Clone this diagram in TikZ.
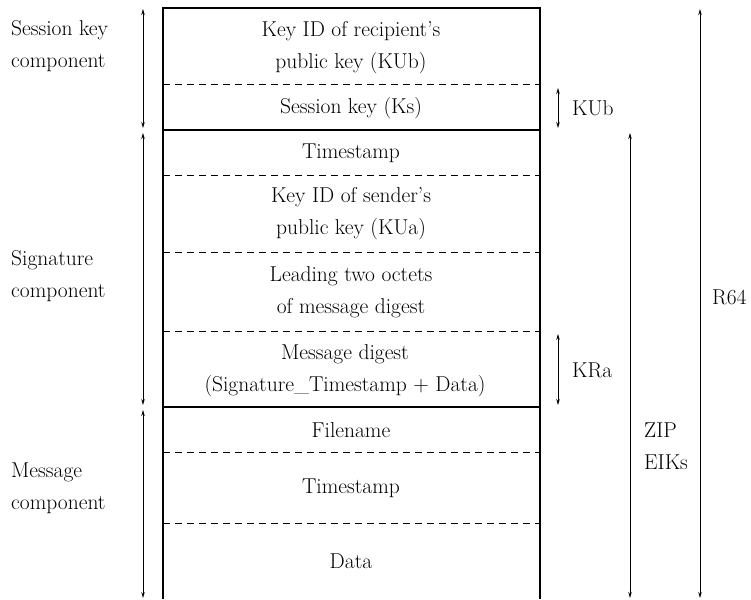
\documentclass[tikz,border=0pt]{standalone}
\usetikzlibrary{arrows.meta}
\begin{document}
\begin{tikzpicture}[x=1pt,y=-1pt,
  txt/.style={font=\fontsize{21.5}{32}\selectfont, align=center, inner sep=0pt},
  lbl/.style={font=\fontsize{21.5}{32}\selectfont, align=left, inner sep=0pt, anchor=west},
  frame/.style={line width=1.3pt},
  sep/.style={line width=1pt, dash pattern=on 7pt off 5pt},
  span/.style={line width=0.8pt, {Stealth[length=6pt,width=3.5pt]}-{Stealth[length=6pt,width=3.5pt]}}
]
\useasboundingbox (0,0) rectangle (751,599);
% box
\coordinate (BL) at (163,599);
\coordinate (TL) at (163,8);
\coordinate (TR) at (540,8);
\coordinate (BR) at (540,599);
\draw[frame] (BL) -- (TL) -- (TR) -- (BR);
% separators
\coordinate (s1l) at (163,85);  \coordinate (s1r) at (540,85);
\coordinate (s2l) at (163,130); \coordinate (s2r) at (540,130);
\coordinate (s3l) at (163,175); \coordinate (s3r) at (540,175);
\coordinate (s4l) at (163,252); \coordinate (s4r) at (540,252);
\coordinate (s5l) at (163,331); \coordinate (s5r) at (540,331);
\coordinate (s6l) at (163,407); \coordinate (s6r) at (540,407);
\coordinate (s7l) at (163,452); \coordinate (s7r) at (540,452);
\coordinate (s8l) at (163,523); \coordinate (s8r) at (540,523);
\draw[sep] (s1l) -- (s1r);
\draw[frame] (s2l) -- (s2r);
\draw[sep] (s3l) -- (s3r);
\draw[sep] (s4l) -- (s4r);
\draw[sep] (s5l) -- (s5r);
\draw[frame] (s6l) -- (s6r);
\draw[sep] (s7l) -- (s7r);
\draw[sep] (s8l) -- (s8r);
% field texts
\node[txt] (f1) at (351,47.5) {Key ID of recipient's\\public key (KUb)};
\node[txt] (f2) at (351,108) {Session key (Ks)};
\node[txt] (f3) at (351,153) {Timestamp};
\node[txt] (f4) at (351,213.5) {Key ID of sender's\\public key (KUa)};
\node[txt] (f5) at (351,292) {Leading two octets\\of message digest};
\node[txt] (f6) at (345,370.5) {Message digest\\(Signature\_Timestamp + Data)};
\node[txt] (f7) at (351,430) {Filename};
\node[txt] (f8) at (351,488) {Timestamp};
\node[txt] (f9) at (351,561) {Data};
% left labels
\node[lbl] (c1) at (11,46) {Session key\\component};
\node[lbl] (c2) at (11,276.5) {Signature\\component};
\node[lbl] (c3) at (11,488) {Message\\component};
% left spans
\coordinate (a1t) at (143,9);   \coordinate (a1b) at (143,128);
\coordinate (a2t) at (143,133); \coordinate (a2b) at (143,405);
\coordinate (a3t) at (143,410); \coordinate (a3b) at (143,598);
\draw[span] (a1t) -- (a1b);
\draw[span] (a2t) -- (a2b);
\draw[span] (a3t) -- (a3b);
% right spans
\coordinate (kt) at (558,88);  \coordinate (kb) at (558,128);
\coordinate (rt) at (558,334); \coordinate (rb) at (558,405);
\coordinate (zt) at (630,133); \coordinate (zb) at (630,598);
\coordinate (ot) at (700,9);   \coordinate (ob) at (700,598);
\draw[span] (kt) -- (kb);
\draw[span] (rt) -- (rb);
\draw[span] (zt) -- (zb);
\draw[span] (ot) -- (ob);
\node[lbl] (l1) at (572,108) {KUb};
\node[lbl] (l2) at (572,370) {KRa};
\node[lbl] (l3) at (644,446) {ZIP\\EIKs};
\node[lbl] (l4) at (712,297) {R64};
\end{tikzpicture}
\end{document}
